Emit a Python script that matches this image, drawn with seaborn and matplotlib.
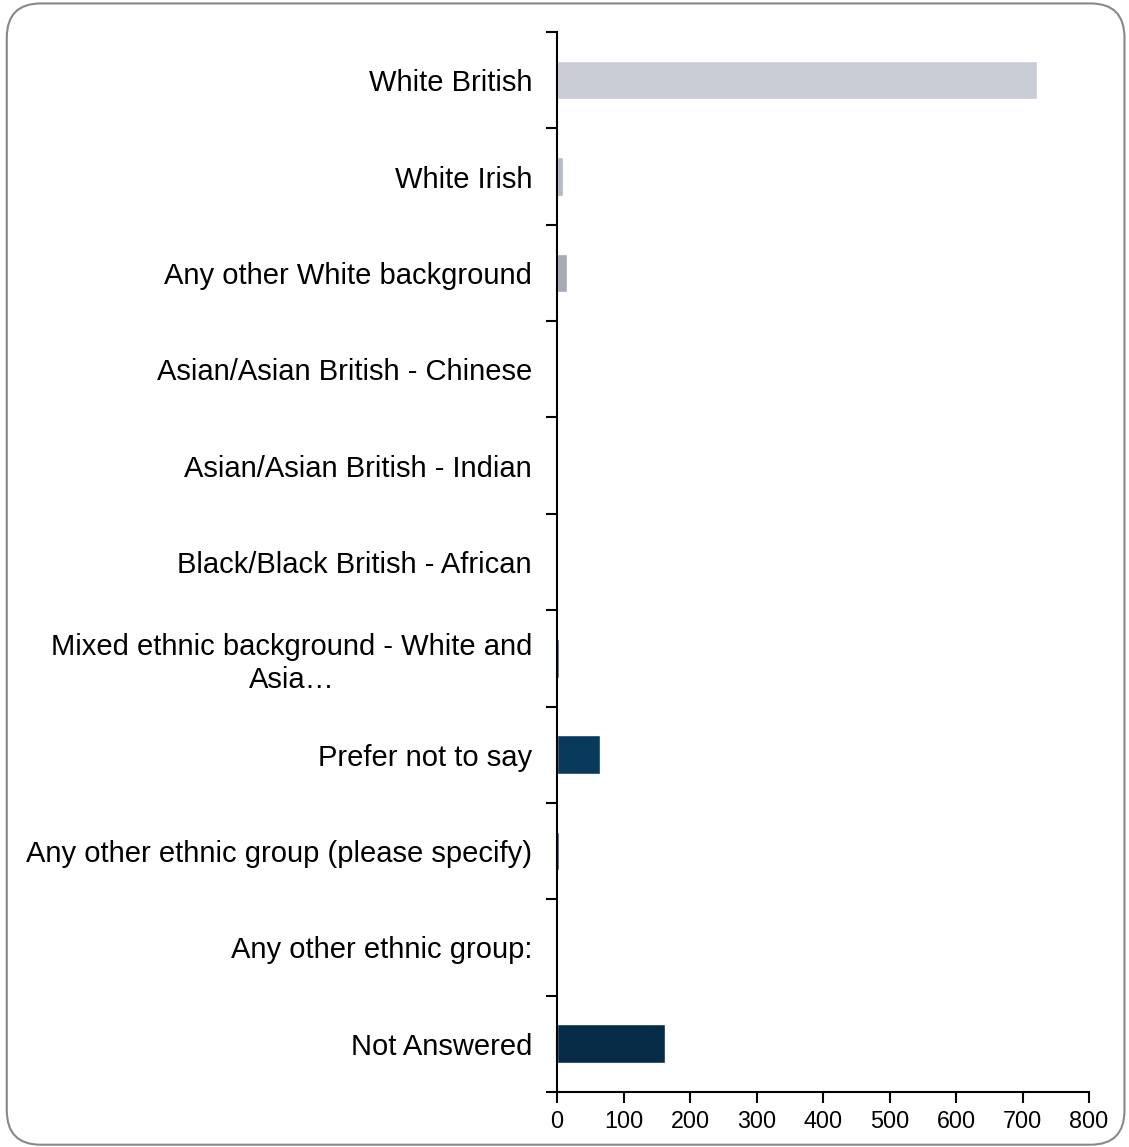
import numpy as np
import pandas as pd
import seaborn as sns
import matplotlib.pyplot as plt
from matplotlib.patches import FancyBboxPatch

categories = [
    "White British",
    "White Irish",
    "Any other White background",
    "Asian/Asian British - Chinese",
    "Asian/Asian British - Indian",
    "Black/Black British - African",
    "Mixed ethnic background - White and\nAsia\u2026",
    "Prefer not to say",
    "Any other ethnic group (please specify)",
    "Any other ethnic group:",
    "Not Answered",
]
counts = [722, 9, 15, 0, 0, 0, 3, 64, 3, 0, 162]
colors = ["#c8ccd5", "#b4bac4", "#a4aab6", "#8a93a3", "#6f7b8e", "#4f6178",
          "#0b3d62", "#083a5c", "#07334f", "#072f4b", "#072c47"]

df = pd.DataFrame({"category": categories, "count": counts})

sns.set_style("white")
plt.rcParams["font.family"] = ["Liberation Sans", "DejaVu Sans"]
plt.rcParams["text.color"] = "black"
plt.rcParams["xtick.color"] = "black"
plt.rcParams["ytick.color"] = "black"

fig = plt.figure(figsize=(11.29, 11.47), dpi=100)
ax = fig.add_axes([0.4934, 0.0480, 0.4712, 0.9241])

sns.barplot(data=df, y="category", x="count", hue="category",
            palette=colors, orient="h", width=0.4, legend=False,
            saturation=1, ax=ax)

ax.set_xlim(0, 800)
ax.set_ylim(len(categories) - 0.5, -0.5)
ax.set_xticks(np.arange(0, 801, 100))
ax.set_xlabel("")
ax.set_ylabel("")

# category labels sit between ticks placed on boundaries
ax.set_yticks(np.arange(len(categories)))
ax.set_yticklabels(categories, fontsize=21, multialignment="center")
ax.set_yticks(np.arange(-0.5, len(categories)), minor=True)
ax.tick_params(axis="y", which="major", left=True, length=0, pad=18)
ax.tick_params(axis="y", which="minor", left=True, length=8, width=1.5,
               color="black", direction="out")
ax.tick_params(axis="x", bottom=True, labelsize=16.8, length=8, width=1.5,
               color="black", labelcolor="black", direction="out", pad=5)

for side in ["top", "right"]:
    ax.spines[side].set_visible(False)
for side in ["left", "bottom"]:
    ax.spines[side].set_color("black")
    ax.spines[side].set_linewidth(1.5)

border = FancyBboxPatch((0.006, 0.002), 0.99, 0.995,
                        boxstyle="round,pad=0,rounding_size=0.03",
                        transform=fig.transFigure, fill=False,
                        edgecolor="#888888", linewidth=1.5)
fig.patches.append(border)

fig.savefig("out.png", dpi=100, facecolor="white")
